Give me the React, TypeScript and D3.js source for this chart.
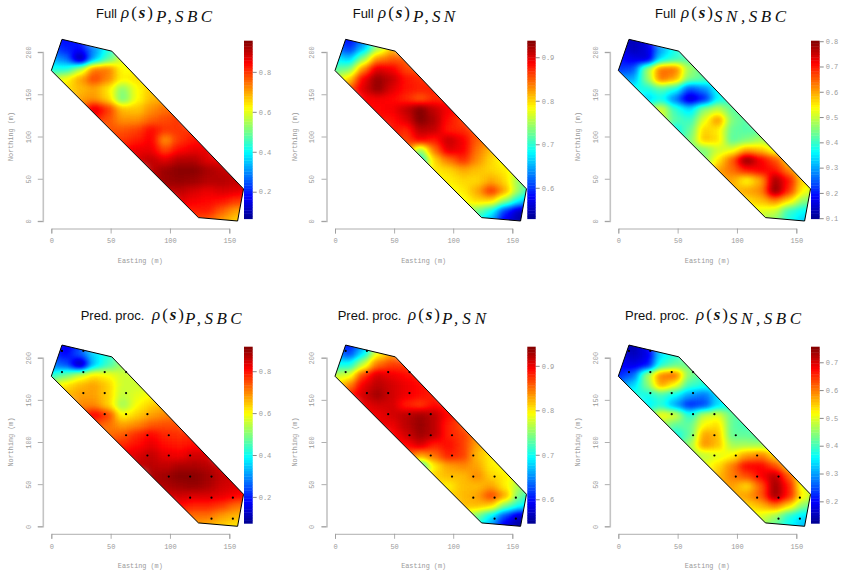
import { useEffect, useRef } from "react";
import * as d3 from "d3";

// site boundary in metres
const boundaryEasting = [0, 9, 51, 162, 157, 124];
const boundaryNorthing = [178, 215, 201, 38, 0, 4];

// knots of the predictive process (bottom row only)
const knotRows = [208, 183, 158, 133, 108, 84, 59, 34, 9];
const knotCols = [
  [9, 27],
  [9, 27, 45, 63],
  [27, 45, 63],
  [45, 63, 81],
  [63, 81, 99],
  [81, 99, 117],
  [99, 117, 135],
  [117, 135, 153],
  [135, 153],
];

// grid the surfaces were read on: 12 m cells, rows from north to south
const cellSize = 12;
const gridNorthing = [216, 204, 192, 180, 168, 156, 144, 132, 120, 108, 96, 84, 72, 60, 48, 36, 24, 12, 0];
const rowFirstCol = [0, 0, 0, 0, 0, 1, 2, 2, 3, 4, 4, 5, 6, 7, 7, 8, 9, 9, 10];

const fullPSBC = [
  [0.2, 0.18, 0.2],
  [0.25, 0.2, 0.18, 0.3, 0.42],
  [0.33, 0.28, 0.07, 0.33, 0.47, 0.6],
  [0.42, 0.42, 0.55, 0.74, 0.74, 0.62, 0.62],
  [0.55, 0.62, 0.7, 0.79, 0.73, 0.63, 0.65, 0.65],
  [0.65, 0.68, 0.7, 0.64, 0.52, 0.62, 0.67],
  [0.7, 0.72, 0.66, 0.5, 0.62, 0.68, 0.7],
  [0.74, 0.88, 0.8, 0.68, 0.67, 0.72, 0.75, 0.76],
  [0.82, 0.77, 0.72, 0.72, 0.76, 0.78, 0.8],
  [0.77, 0.77, 0.79, 0.84, 0.8, 0.8, 0.8],
  [0.8, 0.8, 0.82, 0.85, 0.71, 0.8, 0.83, 0.83],
  [0.84, 0.86, 0.86, 0.78, 0.84, 0.86, 0.86],
  [0.88, 0.9, 0.87, 0.91, 0.91, 0.87, 0.85],
  [0.9, 0.93, 0.95, 0.95, 0.92, 0.9, 0.88],
  [0.9, 0.93, 0.94, 0.93, 0.91, 0.91, 0.9, 0.88],
  [0.9, 0.9, 0.88, 0.86, 0.88, 0.87, 0.85],
  [0.87, 0.85, 0.84, 0.83, 0.8, 0.78],
  [0.82, 0.82, 0.82, 0.76, 0.7, 0.68],
  [0.78, 0.76, 0.7, 0.66, 0.65],
];

const fullPSN = [
  [0.6, 0.58, 0.62],
  [0.64, 0.6, 0.66, 0.75, 0.81],
  [0.68, 0.66, 0.74, 0.83, 0.85, 0.85],
  [0.72, 0.73, 0.83, 0.9, 0.89, 0.86, 0.85],
  [0.76, 0.8, 0.89, 0.93, 0.91, 0.88, 0.87, 0.86],
  [0.85, 0.9, 0.93, 0.9, 0.88, 0.875, 0.875],
  [0.885, 0.89, 0.885, 0.87, 0.85, 0.87, 0.87],
  [0.88, 0.885, 0.89, 0.91, 0.94, 0.91, 0.89, 0.87],
  [0.88, 0.88, 0.9, 0.94, 0.92, 0.88, 0.86],
  [0.88, 0.87, 0.915, 0.91, 0.875, 0.87, 0.85],
  [0.87, 0.86, 0.89, 0.875, 0.91, 0.89, 0.85, 0.83],
  [0.85, 0.74, 0.84, 0.9, 0.89, 0.84, 0.81],
  [0.68, 0.8, 0.84, 0.87, 0.83, 0.8, 0.78],
  [0.79, 0.8, 0.82, 0.81, 0.8, 0.79, 0.76],
  [0.78, 0.79, 0.8, 0.8, 0.82, 0.8, 0.74, 0.7],
  [0.78, 0.79, 0.82, 0.87, 0.82, 0.74, 0.68],
  [0.78, 0.8, 0.8, 0.74, 0.68, 0.62],
  [0.76, 0.73, 0.69, 0.6, 0.55, 0.55],
  [0.69, 0.65, 0.57, 0.54, 0.54],
];

const fullSNSBC = [
  [0.14, 0.13, 0.16],
  [0.2, 0.13, 0.16, 0.3, 0.38],
  [0.2, 0.17, 0.15, 0.35, 0.4, 0.42],
  [0.22, 0.24, 0.47, 0.64, 0.64, 0.47, 0.42],
  [0.3, 0.3, 0.46, 0.64, 0.6, 0.45, 0.42, 0.38],
  [0.37, 0.38, 0.42, 0.38, 0.24, 0.28, 0.37],
  [0.33, 0.37, 0.27, 0.14, 0.2, 0.36, 0.4],
  [0.45, 0.52, 0.4, 0.34, 0.46, 0.5, 0.43, 0.42],
  [0.5, 0.42, 0.4, 0.52, 0.62, 0.45, 0.42],
  [0.36, 0.43, 0.57, 0.55, 0.43, 0.42, 0.42],
  [0.36, 0.45, 0.58, 0.56, 0.42, 0.45, 0.48, 0.46],
  [0.44, 0.45, 0.5, 0.52, 0.6, 0.58, 0.52],
  [0.45, 0.55, 0.65, 0.8, 0.72, 0.66, 0.56],
  [0.6, 0.64, 0.7, 0.72, 0.7, 0.62, 0.54],
  [0.6, 0.6, 0.54, 0.6, 0.78, 0.7, 0.56, 0.5],
  [0.58, 0.6, 0.62, 0.8, 0.68, 0.54, 0.48],
  [0.56, 0.58, 0.62, 0.56, 0.46, 0.42],
  [0.52, 0.52, 0.5, 0.4, 0.36, 0.35],
  [0.48, 0.46, 0.38, 0.33, 0.32],
];

const predPSBC = [
  [0.2, 0.16, 0.22],
  [0.22, 0.18, 0.26, 0.36, 0.42],
  [0.28, 0.25, 0.09, 0.35, 0.44, 0.52],
  [0.42, 0.48, 0.56, 0.62, 0.6, 0.56, 0.56],
  [0.55, 0.62, 0.66, 0.68, 0.64, 0.56, 0.56, 0.56],
  [0.66, 0.68, 0.68, 0.64, 0.55, 0.58, 0.6],
  [0.7, 0.7, 0.64, 0.52, 0.6, 0.64, 0.66],
  [0.74, 0.82, 0.76, 0.6, 0.64, 0.68, 0.7, 0.72],
  [0.74, 0.72, 0.68, 0.7, 0.74, 0.75, 0.75],
  [0.72, 0.74, 0.78, 0.81, 0.78, 0.77, 0.78],
  [0.76, 0.78, 0.8, 0.83, 0.8, 0.79, 0.8, 0.8],
  [0.82, 0.84, 0.86, 0.83, 0.82, 0.85, 0.84],
  [0.86, 0.87, 0.86, 0.88, 0.88, 0.87, 0.84],
  [0.88, 0.89, 0.91, 0.91, 0.89, 0.86, 0.84],
  [0.86, 0.88, 0.89, 0.9, 0.88, 0.85, 0.84, 0.82],
  [0.84, 0.85, 0.84, 0.84, 0.83, 0.81, 0.78],
  [0.8, 0.78, 0.78, 0.76, 0.72, 0.7],
  [0.74, 0.72, 0.72, 0.68, 0.66, 0.64],
  [0.68, 0.66, 0.64, 0.62, 0.62],
];

const predPSN = [
  [0.61, 0.6, 0.65],
  [0.66, 0.62, 0.69, 0.79, 0.83],
  [0.7, 0.7, 0.77, 0.85, 0.87, 0.87],
  [0.77, 0.78, 0.87, 0.91, 0.9, 0.89, 0.88],
  [0.8, 0.84, 0.9, 0.92, 0.91, 0.9, 0.89, 0.88],
  [0.88, 0.91, 0.93, 0.91, 0.9, 0.89, 0.88],
  [0.9, 0.91, 0.91, 0.88, 0.87, 0.89, 0.88],
  [0.89, 0.9, 0.91, 0.92, 0.93, 0.92, 0.89, 0.87],
  [0.9, 0.9, 0.92, 0.935, 0.92, 0.88, 0.86],
  [0.89, 0.91, 0.93, 0.92, 0.88, 0.87, 0.84],
  [0.88, 0.89, 0.91, 0.88, 0.89, 0.87, 0.83, 0.81],
  [0.86, 0.83, 0.85, 0.88, 0.87, 0.82, 0.8],
  [0.7, 0.8, 0.83, 0.84, 0.83, 0.8, 0.79],
  [0.81, 0.82, 0.82, 0.84, 0.81, 0.8, 0.78],
  [0.8, 0.8, 0.82, 0.82, 0.83, 0.8, 0.76, 0.74],
  [0.81, 0.82, 0.83, 0.87, 0.83, 0.74, 0.7],
  [0.82, 0.82, 0.81, 0.74, 0.7, 0.67],
  [0.78, 0.74, 0.69, 0.62, 0.57, 0.58],
  [0.71, 0.66, 0.58, 0.55, 0.56],
];

const predSNSBC = [
  [0.15, 0.14, 0.2],
  [0.2, 0.15, 0.18, 0.34, 0.38],
  [0.2, 0.18, 0.2, 0.38, 0.42, 0.43],
  [0.22, 0.26, 0.46, 0.6, 0.62, 0.44, 0.4],
  [0.28, 0.33, 0.44, 0.58, 0.52, 0.4, 0.38, 0.38],
  [0.38, 0.37, 0.4, 0.36, 0.3, 0.27, 0.34],
  [0.35, 0.38, 0.3, 0.22, 0.24, 0.34, 0.38],
  [0.42, 0.52, 0.5, 0.38, 0.48, 0.5, 0.42, 0.4],
  [0.46, 0.42, 0.42, 0.52, 0.54, 0.42, 0.4],
  [0.36, 0.42, 0.58, 0.56, 0.42, 0.42, 0.4],
  [0.38, 0.46, 0.59, 0.56, 0.46, 0.46, 0.46, 0.44],
  [0.46, 0.48, 0.5, 0.52, 0.58, 0.6, 0.54],
  [0.5, 0.54, 0.6, 0.68, 0.68, 0.63, 0.54],
  [0.56, 0.6, 0.63, 0.68, 0.72, 0.62, 0.5],
  [0.56, 0.58, 0.54, 0.62, 0.74, 0.66, 0.5, 0.46],
  [0.56, 0.58, 0.62, 0.74, 0.66, 0.52, 0.44],
  [0.54, 0.56, 0.6, 0.54, 0.44, 0.4],
  [0.5, 0.5, 0.46, 0.38, 0.34, 0.34],
  [0.46, 0.42, 0.36, 0.32, 0.32],
];

const axisTicksX = [0, 50, 100, 150];
const axisTicksY = [0, 50, 100, 150, 200];

// tim.colors style ramp
const rampColors = ["#00008f", "#0000ff", "#00ffff", "#ffff00", "#ff0000", "#800000"];
const rampStops = [0, 0.125, 0.375, 0.625, 0.875, 1];
const ramp = d3.scaleLinear<string>().domain(rampStops).range(rampColors).interpolate(d3.interpolateRgb);

const panels = [
  {
    values: fullPSBC, low: 0.065, high: 0.956, barTicks: [0.2, 0.4, 0.6, 0.8], knots: false,
    xPx: [51.3, 229.3], yPx: [221, 52], barX: [244, 252.7], barY: [218.7, 40.7],
    head: "Full", headX: 96, rhoX: 121, sub: "P,SBC", subX: [156, 212], headY: 17.5,
  },
  {
    values: fullPSN, low: 0.529, high: 0.938, barTicks: [0.6, 0.7, 0.8, 0.9], knots: false,
    xPx: [335, 512.3], yPx: [221, 52], barX: [527.3, 535.7], barY: [218.7, 40.7],
    head: "Full", headX: 352.7, rhoX: 378, sub: "P,SN", subX: [413, 455], headY: 17.5,
  },
  {
    values: fullSNSBC, low: 0.098, high: 0.802, barTicks: [0.1, 0.2, 0.3, 0.4, 0.5, 0.6, 0.7, 0.8], knots: false,
    xPx: [618.3, 796.3], yPx: [221, 52], barX: [811, 819.7], barY: [218.7, 40.7],
    head: "Full", headX: 655, rhoX: 681, sub: "SN,SBC", subX: [714, 786], headY: 17.5,
  },
  {
    values: predPSBC, low: 0.074, high: 0.917, barTicks: [0.2, 0.4, 0.6, 0.8], knots: true,
    xPx: [51.3, 229.3], yPx: [526.3, 357.7], barX: [244, 252.7], barY: [523.3, 346.7],
    head: "Pred. proc.", headX: 80.7, rhoX: 152, sub: "P,SBC", subX: [185, 241.7], headY: 319.5,
  },
  {
    values: predPSN, low: 0.546, high: 0.943, barTicks: [0.6, 0.7, 0.8, 0.9], knots: true,
    xPx: [335, 512.3], yPx: [526.3, 357.7], barX: [527.3, 535.7], barY: [523.3, 346.7],
    head: "Pred. proc.", headX: 337.7, rhoX: 408, sub: "P,SN", subX: [442, 486], headY: 319.5,
  },
  {
    values: predSNSBC, low: 0.121, high: 0.756, barTicks: [0.2, 0.3, 0.4, 0.5, 0.6, 0.7], knots: true,
    xPx: [618.3, 796.3], yPx: [526.3, 357.7], barX: [811, 819.7], barY: [523.3, 346.7],
    head: "Pred. proc.", headX: 625, rhoX: 696, sub: "SN,SBC", subX: [729, 801], headY: 319.5,
  },
];

const mono = "'Liberation Mono', monospace";
const axisGrey = "#9a9a9a";

export default function App() {
  const svgRef = useRef<SVGSVGElement>(null);

  useEffect(() => {
    const svg = d3.select(svgRef.current);
    svg.selectAll("*").remove();

    // grey cells are blurred, then the grey level is mapped through the colour ramp
    const defs = svg.append("defs");
    const table = d3.range(129).map((i) => d3.rgb(ramp(i / 128)));
    const filter = defs
      .append("filter")
      .attr("id", "surface")
      .attr("filterUnits", "userSpaceOnUse")
      .attr("x", 0)
      .attr("y", 0)
      .attr("width", 846)
      .attr("height", 571)
      .attr("color-interpolation-filters", "sRGB");
    filter.append("feGaussianBlur").attr("stdDeviation", "5 3.8");
    const transfer = filter.append("feComponentTransfer");
    transfer.append("feFuncR").attr("type", "table").attr("tableValues", table.map((c) => (c.r / 255).toFixed(4)).join(" "));
    transfer.append("feFuncG").attr("type", "table").attr("tableValues", table.map((c) => (c.g / 255).toFixed(4)).join(" "));
    transfer.append("feFuncB").attr("type", "table").attr("tableValues", table.map((c) => (c.b / 255).toFixed(4)).join(" "));

    panels.forEach((p, idx) => {
      const x = d3.scaleLinear().domain([0, 150]).range(p.xPx);
      const y = d3.scaleLinear().domain([0, 200]).range(p.yPx);
      const level = d3.scaleLinear().domain([p.low, p.high]).range([0, 255]).clamp(true);
      const g = svg.append("g");

      const outline = d3
        .line<number>()
        .x((d) => x(d))
        .y((_, i) => y(boundaryNorthing[i]))
        .curve(d3.curveLinearClosed)(boundaryEasting) as string;

      defs.append("clipPath").attr("id", `site${idx}`).append("path").attr("d", outline);

      const cells = p.values.flatMap((row, r) =>
        row.map((v, i) => ({ east: (rowFirstCol[r] + i) * cellSize, north: gridNorthing[r], v }))
      );

      g.append("g")
        .attr("clip-path", `url(#site${idx})`)
        .append("g")
        .attr("filter", "url(#surface)")
        .selectAll("rect")
        .data(cells)
        .enter()
        .append("rect")
        .attr("shape-rendering", "crispEdges")
        .attr("x", (d) => x(d.east - cellSize / 2))
        .attr("y", (d) => y(d.north + cellSize / 2))
        .attr("width", x(cellSize) - x(0) + 0.5)
        .attr("height", y(0) - y(cellSize) + 0.5)
        .attr("fill", (d) => {
          const l = Math.round(level(d.v));
          return `rgb(${l},${l},${l})`;
        });

      g.append("path").attr("d", outline).attr("fill", "none").attr("stroke", "#000").attr("stroke-width", 1);

      if (p.knots) {
        const knots = knotRows.flatMap((north, r) => knotCols[r].map((east) => ({ east, north })));
        g.selectAll("circle.knot")
          .data(knots)
          .enter()
          .append("circle")
          .attr("class", "knot")
          .attr("cx", (d) => x(d.east))
          .attr("cy", (d) => y(d.north))
          .attr("r", 1.1)
          .attr("fill", "#000");
      }

      // axes
      const xAxis = g
        .append("g")
        .attr("transform", `translate(0,${p.yPx[0] + 7.5})`)
        .call(d3.axisBottom(x).tickValues(axisTicksX).tickSize(5).tickPadding(5));
      const yAxis = g
        .append("g")
        .attr("transform", `translate(${p.xPx[0] - 8.5},0)`)
        .call(d3.axisLeft(y).tickValues(axisTicksY).tickSize(5).tickPadding(5));
      yAxis
        .selectAll("text")
        .attr("transform", "translate(-14,0) rotate(-90)")
        .attr("x", 0)
        .attr("y", 0)
        .attr("dy", 0)
        .style("text-anchor", "middle")
        .attr("dominant-baseline", "middle");
      [xAxis, yAxis].forEach((a) => {
        a.selectAll("path,line").attr("stroke", axisGrey).attr("stroke-width", 0.8);
        a.selectAll("text").attr("fill", axisGrey).attr("font-family", mono).attr("font-size", 7);
      });
      yAxis.select("path").attr("stroke", "#c4c4c4").attr("stroke-width", 1.6);

      g.append("text")
        .attr("x", (x(0) + x(150)) / 2)
        .attr("y", p.yPx[0] + 42)
        .attr("text-anchor", "middle")
        .attr("fill", axisGrey)
        .attr("font-family", mono)
        .attr("font-size", 6.8)
        .text("Easting (m)");
      g.append("text")
        .attr("transform", `translate(${p.xPx[0] - 38},${(p.yPx[0] + p.yPx[1]) / 2}) rotate(-90)`)
        .attr("text-anchor", "middle")
        .attr("fill", axisGrey)
        .attr("font-family", mono)
        .attr("font-size", 6.8)
        .text("Northing (m)");

      // colour bar
      const bands = d3.range(64);
      const band = d3.scaleBand<number>().domain(bands).range([p.barY[0], p.barY[1]]);
      g.append("g")
        .selectAll("rect")
        .data(bands)
        .enter()
        .append("rect")
        .attr("x", p.barX[0])
        .attr("width", p.barX[1] - p.barX[0])
        .attr("y", (b) => band(b) as number)
        .attr("height", band.bandwidth() + 0.4)
        .attr("fill", (b) => ramp((b + 0.5) / 64));
      const barScale = d3.scaleLinear().domain([p.low, p.high]).range(p.barY);
      const barAxis = g
        .append("g")
        .attr("transform", `translate(${p.barX[1]},0)`)
        .call(d3.axisRight(barScale).tickValues(p.barTicks).tickFormat(d3.format(".1f")).tickSize(4).tickPadding(2).tickSizeOuter(0));
      barAxis.select("path").remove();
      barAxis.selectAll("line").attr("stroke", "#555").attr("stroke-width", 0.7);
      barAxis.selectAll("text").attr("fill", axisGrey).attr("font-family", mono).attr("font-size", 7);

      // title
      g.append("text")
        .attr("x", p.headX)
        .attr("y", p.headY)
        .attr("font-family", "'Liberation Sans', sans-serif")
        .attr("font-size", 13)
        .attr("fill", "#111")
        .text(p.head);
      const rho = g
        .append("text")
        .attr("x", p.rhoX)
        .attr("y", p.headY)
        .attr("font-family", "'Liberation Serif', serif")
        .attr("font-size", 17)
        .attr("fill", "#111")
        .attr("textLength", 32)
        .attr("lengthAdjust", "spacing");
      rho.append("tspan").attr("font-style", "italic").text("ρ");
      rho.append("tspan").text("(");
      rho.append("tspan").attr("font-style", "italic").attr("font-weight", "bold").text("s");
      rho.append("tspan").text(")");
      g.append("text")
        .attr("x", p.subX[0])
        .attr("y", p.headY + 4)
        .attr("font-family", "'Liberation Serif', serif")
        .attr("font-style", "italic")
        .attr("font-size", 17)
        .attr("fill", "#111")
        .attr("textLength", p.subX[1] - p.subX[0])
        .attr("lengthAdjust", "spacing")
        .text(p.sub);
    });
  }, []);

  return (
    <svg
      ref={svgRef}
      width={846}
      height={571}
      style={{ position: "absolute", left: 0, top: 0, background: "#fff" }}
    />
  );
}
